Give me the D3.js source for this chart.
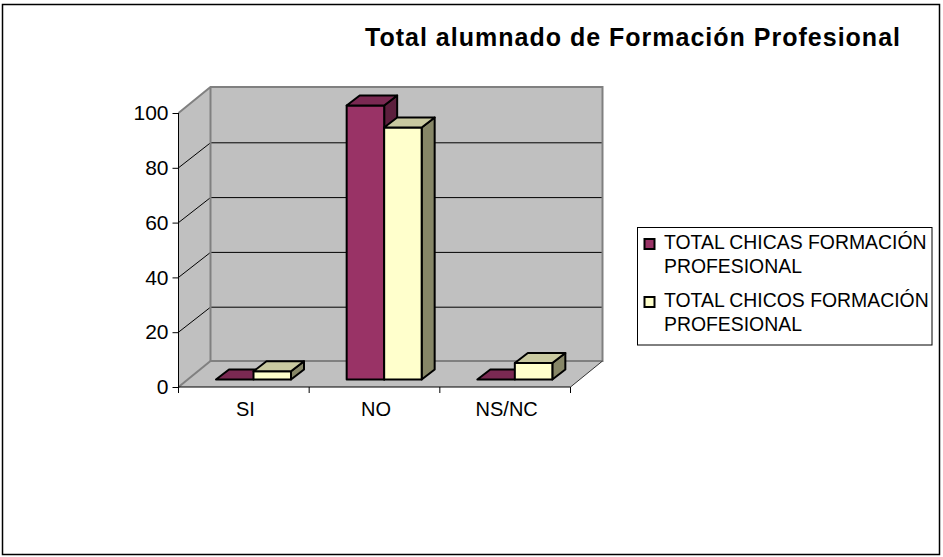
<!DOCTYPE html>
<html><head><meta charset="utf-8">
<script src="https://cdn.jsdelivr.net/npm/d3@7/dist/d3.min.js"></script>
<style>html,body{margin:0;padding:0;background:#fff}svg{display:block}text{font-family:"Liberation Sans",Arial,sans-serif;fill:#000}</style>
</head><body><svg id="c" width="943" height="557"></svg>
<script>
const categories = ["SI","NO","NS/NC"];
const chicas = [0,100,0];
const chicos = [3,92,6];
const seriesNames = [["TOTAL CHICAS FORMACIÓN","PROFESIONAL"],["TOTAL CHICOS FORMACIÓN","PROFESIONAL"]];
const yTicks = [0,20,40,60,80,100];
const titleText = "Total alumnado de Formación Profesional";

const wallFill="#c0c0c0", wallEdge="#808080";
const cols=[{f:"#993366",t:"#7a2952",s:"#5c1f3d"},{f:"#ffffcc",t:"#c9c9a0",s:"#868667"}];
const svg=d3.select("#c");
svg.append("rect").attr("x",2.5).attr("y",4.5).attr("width",937).attr("height",550).attr("fill","#fff").attr("stroke","#000").attr("stroke-width",1.5);

const x0=178.5,x1=570.5,yB=387,yT=113,dx=32,dy=-26,gridDy=-25;
const x=d3.scaleBand().domain(categories).range([x0,x1]);
const y=d3.scaleLinear().domain([0,100]).range([yB,yT]);
const pts=a=>a.map(p=>p.join(",")).join(" ");
// walls
svg.append("polygon").attr("points",pts([[x0,yB],[x0+dx,yB+dy],[x0+dx,yT+dy],[x0,yT]])).attr("fill",wallFill);
svg.append("polygon").attr("points",pts([[x0+dx,yB+dy],[x1+dx,yB+dy],[x1+dx,yT+dy],[x0+dx,yT+dy]])).attr("fill",wallFill);
svg.append("polygon").attr("points",pts([[x0,yB],[x1,yB],[x1+dx,yB+dy],[x0+dx,yB+dy]])).attr("fill",wallFill);
// gridlines
yTicks.filter(v=>v>0&&v<100).forEach(v=>{
  svg.append("polyline").attr("points",pts([[x0,y(v)],[x0+dx,y(v)+gridDy],[x1+dx,y(v)+gridDy]])).attr("fill","none").attr("stroke","#000");
});
// wall edges
svg.append("polyline").attr("points",pts([[x0,yT],[x0+dx,yT+dy],[x1+dx,yT+dy],[x1+dx,yB+dy],[x0+dx,yB+dy],[x0+dx,yT+dy]])).attr("fill","none").attr("stroke",wallEdge).attr("stroke-width",2);
svg.append("line").attr("x1",x0).attr("y1",yB).attr("x2",x0+dx).attr("y2",yB+dy).attr("stroke",wallEdge).attr("stroke-width",2);
svg.append("line").attr("x1",x1).attr("y1",yB).attr("x2",x1+dx).attr("y2",yB+dy).attr("stroke","#333");
// axes
const ga=d3.axisLeft(y).tickValues(yTicks).tickSize(6).tickPadding(4);
const gy=svg.append("g").attr("transform",`translate(${x0},0)`).call(ga);
gy.select(".domain").attr("stroke","#000").attr("d",`M0,${yT}V${yB}`);
gy.selectAll("text").style("font-size","21px").style("font-family",'"Liberation Sans",Arial,sans-serif').attr("fill","#000");
const gx=svg.append("g").attr("transform",`translate(0,${yB})`).call(d3.axisBottom(x).tickSize(0).tickPadding(15));
gx.select(".domain").attr("stroke","#000").attr("d",`M${x0},0H${x1}`);
gx.selectAll("text").attr("dx",1.5).style("font-size","20px").style("font-family",'"Liberation Sans",Arial,sans-serif').attr("fill","#000");
[x0,...categories.map(c=>x(c)+x.bandwidth())].forEach(px=>svg.append("line").attr("x1",px).attr("x2",px).attr("y1",yB).attr("y2",yB+6).attr("stroke","#000"));
// bars
const barW=37.5,offX=37.5,depX=13,depY=-10,baseUp=7.5;
const inner=d3.scaleBand().domain([0,1]).range([offX,offX+2*barW]);
const drawBar=(c,i,v)=>{
  const l=x(c)+inner(i),r=l+barW,b=y(0)-baseUp,t=b-(y(0)-y(v));
  const g=svg.append("g").attr("stroke","#000").attr("stroke-width",2).attr("stroke-linejoin","round");
  if(v>0){
    g.append("polygon").attr("points",pts([[r,b],[r+depX,b+depY],[r+depX,t+depY],[r,t]])).attr("fill",cols[i].s);
    g.append("rect").attr("x",l).attr("y",t).attr("width",barW).attr("height",b-t).attr("fill",cols[i].f);
  }
  g.append("polygon").attr("points",pts([[l,t],[l+depX,t+depY],[r+depX,t+depY],[r,t]])).attr("fill",cols[i].t);
};
categories.forEach((c,k)=>{drawBar(c,0,chicas[k]);drawBar(c,1,chicos[k]);});
// title
svg.append("text").attr("x",365).attr("y",46).attr("font-size","25px").attr("font-weight","bold").attr("textLength",535).text(titleText);
// legend
svg.append("rect").attr("x",637.5).attr("y",227.5).attr("width",294.5).attr("height",117.5).attr("fill","#fff").attr("stroke","#000");
const legY=[[249,273],[307,331]];
seriesNames.forEach((lines,i)=>{
  svg.append("rect").attr("x",644.5).attr("y",legY[i][0]-10).attr("width",10).attr("height",10).attr("fill",cols[i].f).attr("stroke","#000").attr("stroke-width",2);
  lines.forEach((t,j)=>svg.append("text").attr("x",664).attr("y",legY[i][j]).attr("font-size","19.4px").text(t));
});
</script></body></html>
